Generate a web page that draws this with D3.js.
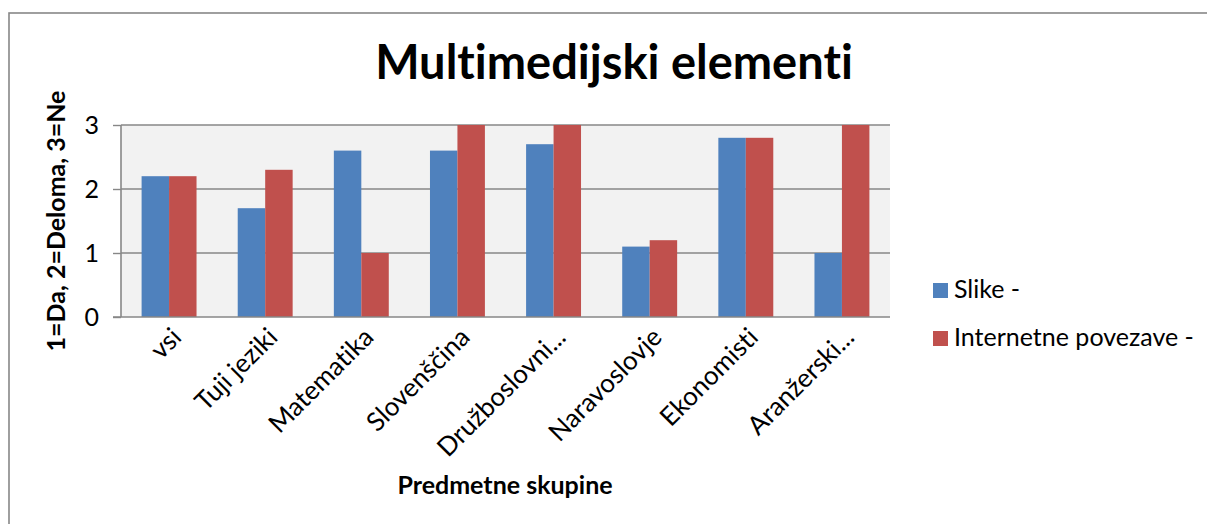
<!DOCTYPE html>
<meta charset="utf-8">
<head>
<style>
    body {margin: 0; background: #fff; font-family: "Lato", "Noto Sans", sans-serif;}
    svg {display: block;}
    text {font-variant-ligatures: none; font-feature-settings: "liga" 0;}
</style>
<script src="https://d3js.org/d3.v7.min.js"></script>
</head>
<body>
    <div id="chart"></div>
</body>
<script>

// chart data
var categories = ["vsi", "Tuji jeziki", "Matematika", "Slovenščina", "Družboslovni...",
                  "Naravoslovje", "Ekonomisti", "Aranžerski..."];
var slike = [2.2, 1.7, 2.6, 2.6, 2.7, 1.1, 2.8, 1.0];
var povezave = [2.2, 2.3, 1.0, 3.0, 3.0, 1.2, 2.8, 3.0];
var seriesNames = ["Slike -", "Internetne povezave -"];
var yTicks = [0, 1, 2, 3];

var width = 1207;
var height = 524;

var blue = "#4f81bd";
var red = "#c0504d";
var lineColor = "#878787";
var plotFill = "#f2f2f2";

var plot = {left: 121, right: 890, top: 125, bottom: 317};

var svg = d3.select("#chart")
    .append("svg")
    .attr("width", width)
    .attr("height", height);

// outer chart border (runs off the right/bottom of the picture)
svg.append("rect")
    .attr("x", 9).attr("y", 13)
    .attr("width", 1220).attr("height", 530)
    .style("fill", "#fff")
    .style("stroke", lineColor)
    .style("stroke-width", "1.6px");

var x = d3.scaleBand()
    .domain(categories)
    .range([plot.left, plot.right]);

var y = d3.scaleLinear()
    .domain([0, 3])
    .range([plot.bottom, plot.top]);

// bar width with a 150% gap, like the original
var barW = x.bandwidth() / 3.5;

svg.append("rect")
    .attr("x", plot.left).attr("y", plot.top)
    .attr("width", plot.right - plot.left).attr("height", plot.bottom - plot.top)
    .style("fill", plotFill);

// gridlines
svg.append("g")
    .selectAll("line")
    .data(yTicks.filter(function(d) { return d > 0; }))
    .enter().append("line")
    .attr("x1", plot.left).attr("x2", plot.right)
    .attr("y1", function(d) { return y(d); })
    .attr("y2", function(d) { return y(d); })
    .style("stroke", lineColor)
    .style("stroke-width", "1.4px");

// bars
var groups = svg.append("g")
    .selectAll("g")
    .data(categories)
    .enter().append("g");

groups.append("rect")
    .attr("x", function(d) { return x(d) + x.bandwidth() / 2 - barW; })
    .attr("y", function(d, i) { return y(slike[i]); })
    .attr("width", barW)
    .attr("height", function(d, i) { return plot.bottom - y(slike[i]); })
    .style("fill", blue);

groups.append("rect")
    .attr("x", function(d) { return x(d) + x.bandwidth() / 2; })
    .attr("y", function(d, i) { return y(povezave[i]); })
    .attr("width", barW)
    .attr("height", function(d, i) { return plot.bottom - y(povezave[i]); })
    .style("fill", red);

// y axis
var yAxis = svg.append("g")
    .attr("transform", "translate(" + plot.left + ",0)")
    .call(d3.axisLeft(y).tickValues(yTicks).tickSize(8).tickPadding(14).tickFormat(d3.format("d")));
yAxis.select(".domain").remove();
yAxis.selectAll(".tick line").style("stroke", lineColor).style("stroke-width", "1.4px");
yAxis.selectAll("text")
    .style("font-family", "Lato")
    .style("font-size", "25px")
    .style("fill", "#000");

svg.append("line")
    .attr("x1", plot.left).attr("x2", plot.left)
    .attr("y1", plot.top).attr("y2", plot.bottom)
    .style("stroke", lineColor)
    .style("stroke-width", "1.6px");

svg.append("line")
    .attr("x1", plot.left - 8).attr("x2", plot.right)
    .attr("y1", plot.bottom).attr("y2", plot.bottom)
    .style("stroke", lineColor)
    .style("stroke-width", "1.6px");

// category labels, rotated
svg.append("g")
    .selectAll("text")
    .data(categories)
    .enter().append("text")
    .attr("transform", function(d) {
        return "translate(" + (x(d) + x.bandwidth() / 2 + 1) + "," + (plot.bottom + 9) + ") rotate(-45)";
    })
    .attr("dy", "0.7em")
    .style("text-anchor", "end")
    .style("font-size", "26px")
    .text(function(d) { return d; });

// titles
svg.append("text")
    .attr("x", 614).attr("y", 79)
    .style("text-anchor", "middle")
    .style("font-weight", "bold")
    .style("font-size", "47px")
    .text("Multimedijski elementi");

svg.append("text")
    .attr("x", 505).attr("y", 494)
    .style("text-anchor", "middle")
    .style("font-weight", "bold")
    .style("font-size", "25px")
    .text("Predmetne skupine");

svg.append("text")
    .attr("transform", "translate(65," + ((plot.top + plot.bottom) / 2) + ") rotate(-90)")
    .style("text-anchor", "middle")
    .style("font-weight", "bold")
    .style("font-size", "25px")
    .text("1=Da, 2=Deloma, 3=Ne");

// legend
var legend = svg.append("g")
    .selectAll("g")
    .data(seriesNames)
    .enter().append("g")
    .attr("transform", function(d, i) { return "translate(933," + (283 + i * 48) + ")"; });

legend.append("rect")
    .attr("width", 15).attr("height", 15)
    .style("fill", function(d, i) { return i == 0 ? blue : red; });

legend.append("text")
    .attr("x", 21).attr("y", 15)
    .style("font-size", "25px")
    .text(function(d) { return d; });

</script>
